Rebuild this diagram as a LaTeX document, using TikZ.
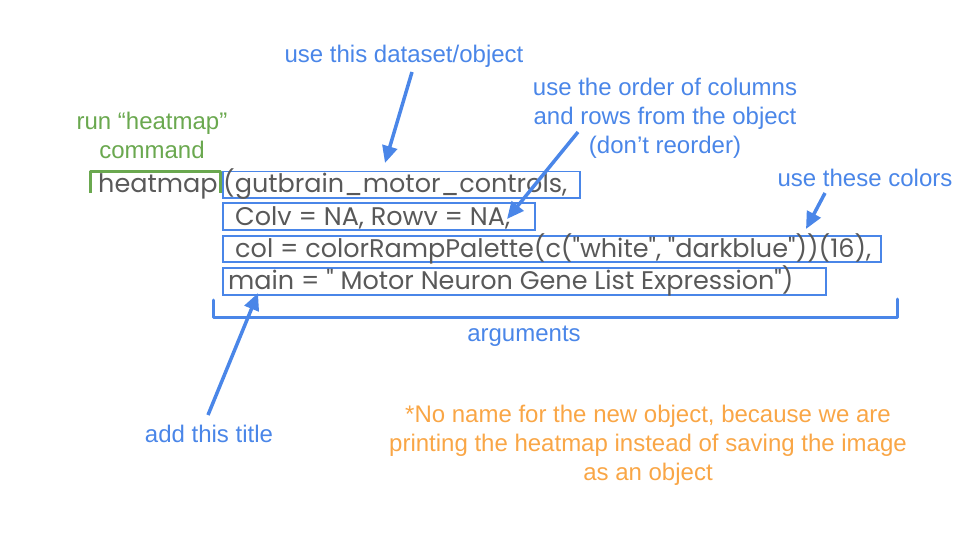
\documentclass[tikz,border=0pt]{standalone}
\usepackage{fontspec}
\setmainfont{Liberation Sans}
\newfontfamily\codefont{Poppins}
\usetikzlibrary{arrows.meta}
\definecolor{gblue}{HTML}{4A86E8}
\definecolor{ggreen}{HTML}{6AA84F}
\definecolor{gorange}{HTML}{F9A646}
\definecolor{codegray}{HTML}{595959}
\tikzset{
  note/.style={font=\fontsize{24}{29}\selectfont, align=center, inner sep=0pt},
  bluenote/.style={note, text=gblue},
  code/.style={font=\codefont\fontsize{25.5}{28}\selectfont, text=codegray, inner sep=0pt},
  codebox/.style={draw=gblue, line width=1.5pt, inner sep=0pt, anchor=north west},
  pointer/.style={draw=gblue, line width=3.5pt, -{Triangle[length=17pt,width=15pt]}},
  brace/.style={draw=gblue, line width=3pt, line cap=round, line join=round},
}
\begin{document}
\begin{tikzpicture}[x=1pt,y=-1pt]
\useasboundingbox (0,0) rectangle (960,540);

% argument boxes
\node[codebox, minimum width=357, minimum height=26] (b1) at (222,171) {};
\node[codebox, minimum width=312, minimum height=27] (b2) at (222,202) {};
\node[codebox, minimum width=658, minimum height=26] (b3) at (222,235) {};
\node[codebox, minimum width=603, minimum height=27] (b4) at (222,267) {};

% code lines
\node[code, anchor=base west] (fn) at (98,193) {heatmap};
\node[code, anchor=base west] (c1) at (223,193) {(gutbrain\_motor\_controls,};
\node[code, anchor=base west] (c2) at (235,225) {Colv = NA, Rowv = NA,};
\node[code, anchor=base west] (c3) at (235,257) {col = colorRampPalette(c("white", "darkblue"))(16),};
\node[code, anchor=base west] (c4) at (228,289) {main = " Motor Neuron Gene List Expression")};

% green bracket over the function name
\coordinate (g1) at (90,193);
\coordinate (g2) at (90,172);
\coordinate (g3) at (220,172);
\coordinate (g4) at (220,193);
\draw[ggreen, line width=3pt, line join=round] (g1) -- (g2) -- (g3) -- (g4);
\node[note, text=ggreen] (run) at (152,135) {run “heatmap”\\command};

% bracket under the arguments
\coordinate (k1) at (213,300);
\coordinate (k2) at (213,317);
\coordinate (k3) at (897,317);
\coordinate (k4) at (897,299);
\draw[brace] (k1) -- (k2) -- (k3) -- (k4);
\node[bluenote] (args) at (524,336) {arguments};

% labels
\node[bluenote] (data) at (404,56) {use this dataset/object};
\node[bluenote] (order) at (665,118) {use the order of columns\\and rows from the object\\(don’t reorder)};
\node[bluenote] (colors) at (865,178) {use these colors};
\node[bluenote] (title) at (209,434) {add this title};
\node[note, text=gorange] (remark) at (648,445) {*No name for the new object, because we are\\printing the heatmap instead of saving the image\\as an object};

% pointers
\coordinate (p1s) at (412,72);
\coordinate (p1e) at (385,163);
\draw[pointer] (p1s) -- (p1e);
\coordinate (p2s) at (578,132);
\coordinate (p2e) at (507,219);
\draw[pointer] (p2s) -- (p2e);
\coordinate (p3s) at (825,193);
\coordinate (p3e) at (806,229);
\draw[pointer] (p3s) -- (p3e);
\coordinate (p4s) at (208,415);
\coordinate (p4e) at (258,293);
\draw[pointer] (p4s) -- (p4e);
\end{tikzpicture}
\end{document}
